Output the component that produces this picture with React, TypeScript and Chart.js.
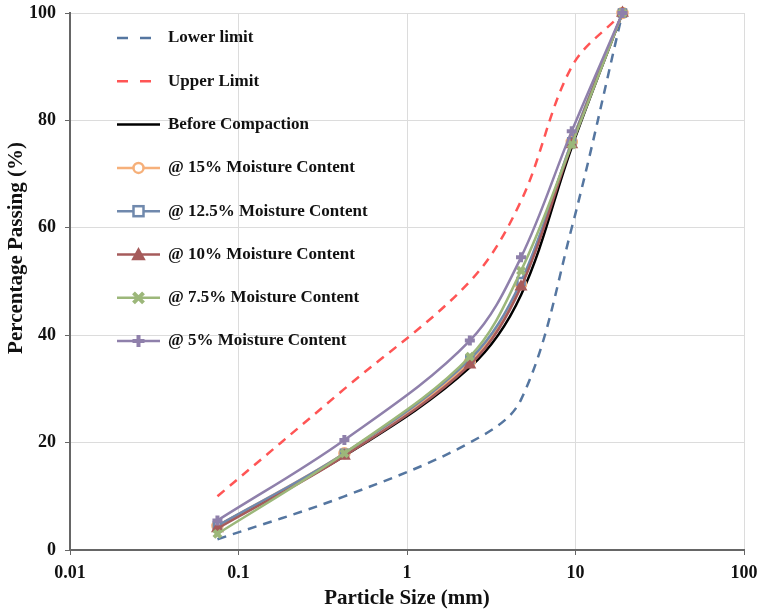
import React, { useEffect, useRef } from "react";
import { Chart, registerables } from "chart.js";

Chart.register(...registerables);

const sieveSizes = [0.075, 0.425, 2.36, 4.75, 9.5, 19];
const lowerLimit = [2, 10, 20, 28, 60, 100];
const upperLimit = [10, 30, 50, 65, 90, 100];
const beforeCompaction = [4.5, 17.5, 34, 47.5, 75, 100];
const mc15 = [4.5, 18, 35, 49.5, 76, 100];
const mc125 = [4.5, 18, 35.5, 50, 76, 100];
const mc10 = [4, 17.5, 34.5, 49, 75.5, 100];
const mc75 = [3, 18, 36, 52, 75.5, 100];
const mc5 = [5.5, 20.5, 39, 54.5, 78, 100];
const xTickValues = [0.01, 0.1, 1, 10, 100];

const FONT = "'Liberation Serif', 'Times New Roman', serif";
const Y_TITLE = "Percentage Passing (%)";

type SeriesDef = {
  label: string;
  data: number[];
  color: string;
  dash?: number[];
  marker?: string;
  fill?: string;
  width: number;
};

const series: SeriesDef[] = [
  { label: "Lower limit", data: lowerLimit, color: "#5576a0", dash: [9, 7], width: 2.5 },
  { label: "Upper Limit", data: upperLimit, color: "#ff5555", dash: [9, 7], width: 2.5 },
  { label: "Before Compaction", data: beforeCompaction, color: "#000000", width: 2.5 },
  { label: "@ 15% Moisture Content", data: mc15, color: "#f6b07a", marker: "circle", fill: "#ffffff", width: 2.5 },
  { label: "@ 12.5% Moisture Content", data: mc125, color: "#7089ad", marker: "rect", fill: "#ffffff", width: 2.5 },
  { label: "@ 10% Moisture Content", data: mc10, color: "#a65b5b", marker: "triangle", fill: "#a65b5b", width: 2.5 },
  { label: "@ 7.5% Moisture Content", data: mc75, color: "#9cb77a", marker: "crossRot", fill: "#9cb77a", width: 2.5 },
  { label: "@ 5% Moisture Content", data: mc5, color: "#8f80ab", marker: "cross", fill: "#8f80ab", width: 2.5 },
];

function drawMarker(ctx: CanvasRenderingContext2D, s: SeriesDef, x: number, y: number) {
  const r = 5;
  ctx.save();
  ctx.strokeStyle = s.color;
  ctx.fillStyle = s.fill || s.color;
  ctx.setLineDash([]);
  if (s.marker === "circle") {
    ctx.lineWidth = 2.5;
    ctx.beginPath();
    ctx.arc(x, y, r, 0, Math.PI * 2);
    ctx.fill();
    ctx.stroke();
  } else if (s.marker === "rect") {
    ctx.lineWidth = 2.5;
    ctx.fillRect(x - r, y - r, 2 * r, 2 * r);
    ctx.strokeRect(x - r, y - r, 2 * r, 2 * r);
  } else if (s.marker === "triangle") {
    ctx.lineWidth = 1.5;
    ctx.beginPath();
    ctx.moveTo(x, y - r - 1);
    ctx.lineTo(x + r + 1, y + r);
    ctx.lineTo(x - r - 1, y + r);
    ctx.closePath();
    ctx.fill();
    ctx.stroke();
  } else if (s.marker === "crossRot") {
    ctx.lineWidth = 4;
    ctx.beginPath();
    ctx.moveTo(x - r, y - r);
    ctx.lineTo(x + r, y + r);
    ctx.moveTo(x + r, y - r);
    ctx.lineTo(x - r, y + r);
    ctx.stroke();
  } else if (s.marker === "cross") {
    ctx.lineWidth = 4;
    ctx.beginPath();
    ctx.moveTo(x - r - 1, y);
    ctx.lineTo(x + r + 1, y);
    ctx.moveTo(x, y - r - 1);
    ctx.lineTo(x, y + r + 1);
    ctx.stroke();
  }
  ctx.restore();
}

const legendPlugin = {
  id: "insideLegend",
  afterDatasetsDraw(chart: any) {
    const ctx: CanvasRenderingContext2D = chart.ctx;
    const x0 = 117;
    const x1 = 160;
    const textX = 168;
    const top = 38;
    const step = 43.3;
    ctx.save();
    series.forEach((s, i) => {
      const y = top + i * step;
      ctx.strokeStyle = s.color;
      ctx.lineWidth = s.width;
      ctx.setLineDash(s.dash ? [11, 12] : []);
      ctx.beginPath();
      ctx.moveTo(x0, y);
      ctx.lineTo(s.dash ? x0 + 35 : x1, y);
      ctx.stroke();
      if (s.marker) drawMarker(ctx, s, (x0 + x1) / 2, y);
      ctx.setLineDash([]);
      ctx.fillStyle = "#111111";
      ctx.font = `bold 17px ${FONT}`;
      ctx.textBaseline = "middle";
      ctx.textAlign = "left";
      ctx.fillText(s.label, textX, y);
    });
    // y-axis title
    ctx.save();
    ctx.translate(17, 248);
    ctx.rotate(-Math.PI / 2);
    ctx.fillStyle = "#111111";
    ctx.font = `bold 21px ${FONT}`;
    ctx.textAlign = "center";
    ctx.textBaseline = "middle";
    ctx.fillText(Y_TITLE, 0, 0);
    ctx.restore();
    ctx.restore();
  },
};

export default function App() {
  const canvasRef = useRef<HTMLCanvasElement | null>(null);

  useEffect(() => {
    if (!canvasRef.current) return;
    const datasets = series.map((s, i) => ({
      label: s.label,
      data: sieveSizes.map((x, j) => ({ x, y: s.data[j] })),
      borderColor: s.color,
      backgroundColor: s.fill || s.color,
      borderWidth: s.width,
      borderDash: s.dash || [],
      tension: 0.35,
      pointStyle: s.marker || "circle",
      pointRadius: s.marker ? 5 : 0,
      pointHoverRadius: s.marker ? 5 : 0,
      pointBorderWidth: s.marker === "cross" || s.marker === "crossRot" ? 4 : 2.5,
      pointBorderColor: s.color,
      pointBackgroundColor: s.fill || s.color,
      clip: false as any,
      order: series.length - i,
    }));

    const chart = new Chart(canvasRef.current, {
      type: "line",
      data: { datasets },
      plugins: [legendPlugin],
      options: {
        responsive: false,
        animation: false,
        layout: { padding: { top: 13, right: 20, left: 0, bottom: 0 } },
        plugins: {
          legend: { display: false },
          tooltip: { enabled: false },
        },
        scales: {
          x: {
            type: "logarithmic",
            min: 0.01,
            max: 100,
            afterBuildTicks: (scale: any) => {
              scale.ticks = xTickValues.map((v) => ({ value: v }));
            },
            afterFit: (scale: any) => {
              scale.height = 64;
              scale.paddingLeft = 0;
              scale.paddingRight = 0;
            },
            ticks: {
              autoSkip: false,
              maxRotation: 0,
              padding: 8,
              color: "#111111",
              font: { family: FONT, size: 18, weight: "bold" },
              callback: (v: any) => String(v),
            },
            grid: {
              color: "#dcdcdc",
              lineWidth: 1,
              tickLength: 5,
              tickColor: "#666666",
            },
            border: { color: "#666666", width: 2 },
            title: {
              display: true,
              text: "Particle Size (mm)",
              color: "#111111",
              font: { family: FONT, size: 21, weight: "bold" },
              padding: { top: 0, bottom: 3 },
            },
          },
          y: {
            min: 0,
            max: 100,
            afterFit: (scale: any) => {
              scale.width = 70;
              scale.paddingTop = 0;
              scale.paddingBottom = 0;
            },
            ticks: {
              stepSize: 20,
              padding: 9,
              color: "#111111",
              font: { family: FONT, size: 18, weight: "bold" },
            },
            grid: {
              color: "#dcdcdc",
              lineWidth: 1,
              tickLength: 5,
              tickColor: "#666666",
            },
            border: { color: "#666666", width: 2 },
            title: { display: false },
          },
        },
      },
    });
    return () => chart.destroy();
  }, []);

  return (
    <div style={{ position: "absolute", left: 0, top: 0, width: 764, height: 614, background: "#ffffff" }}>
      <canvas ref={canvasRef} width={764} height={614} />
    </div>
  );
}
